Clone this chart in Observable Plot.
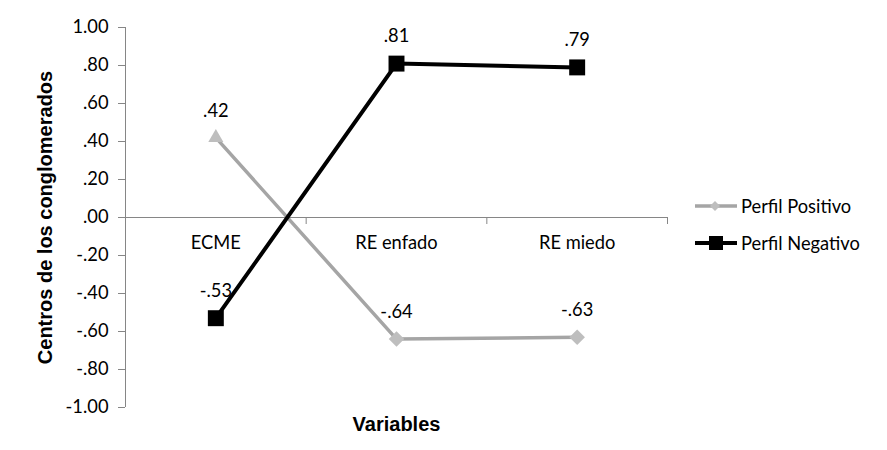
<!DOCTYPE html>
<html>
<head>
<meta charset="utf-8">
<script src="https://cdn.jsdelivr.net/npm/d3@7"></script>
<script src="https://cdn.jsdelivr.net/npm/@observablehq/plot@0.6"></script>
<style>
  body { margin: 0; background: #fff; }
  #wrap { position: relative; width: 887px; height: 450px; }
  #legend { position: absolute; left: 695px; top: 187px; font-family: Lato, sans-serif; font-size: 18.3px; color: #000; }
  .row { display: flex; align-items: center; height: 37px; }
  .row svg { margin-right: 4px; }
</style>
</head>
<body>
<div id="wrap"><div id="legend"></div></div>
<script>
const categories = ["ECME", "RE enfado", "RE miedo"];
const seriesNames = ["Perfil Positivo", "Perfil Negativo"];
const positivo = [0.42, -0.64, -0.63];
const negativo = [-0.53, 0.81, 0.79];
const yTickValues = [1.0, 0.8, 0.6, 0.4, 0.2, 0, -0.2, -0.4, -0.6, -0.8, -1.0];
const yTickLabels = ["1.00", ".80", ".60", ".40", ".20", ".00", "-.20", "-.40", "-.60", "-.80", "-1.00"];

const rowsPos = categories.map((c, i) => ({i, cat: c, v: positivo[i], serie: seriesNames[0]}));
const rowsNeg = categories.map((c, i) => ({i, cat: c, v: negativo[i], serie: seriesNames[1]}));
const boundaries = d3.range(categories.length + 1).map(i => i - 0.5);
const fmt = v => v.toFixed(2).replace(/^(-?)0\./, "$1.");

const grayLine = "#A5A5A5", grayMark = "#BEBEBE", axisCol = "#868686";
const FS = 18.3;

const chart = Plot.plot({
  width: 887, height: 450,
  marginLeft: 125, marginRight: 220, marginTop: 27, marginBottom: 43,
  x: {type: "linear", domain: [-0.5, categories.length - 0.5], axis: null},
  y: {domain: [-1, 1], axis: null},
  style: {fontFamily: "Lato, sans-serif", fontSize: FS + "px", color: "#000", background: "#fff"},
  marks: [
    Plot.ruleX([-0.5], {y1: -1, y2: 1, stroke: axisCol}),
    Plot.axisY(yTickValues, {
      tickSize: 7, tickPadding: 10, stroke: axisCol, fill: "#000", fontSize: FS, label: null,
      tickFormat: d => yTickLabels[yTickValues.indexOf(d)]
    }),
    Plot.ruleY([0], {x1: -0.5, x2: categories.length - 0.5, stroke: axisCol}),
    Plot.ruleX(boundaries, {y1: 0, y2: 0, insetBottom: -7, stroke: axisCol}),
    Plot.text(categories, {x: (d, i) => i, y: 0, dy: 26, text: d => d, fill: "#000", fontSize: FS}),
    Plot.line(rowsPos, {x: "i", y: "v", stroke: grayLine, strokeWidth: 3.5}),
    Plot.dot(rowsPos.filter(d => d.i === 0), {x: "i", y: "v", symbol: "triangle", r: 5.6, fill: grayMark}),
    Plot.dot(rowsPos.filter(d => d.i !== 0), {x: "i", y: "v", symbol: "diamond2", r: 7, fill: grayMark}),
    Plot.line(rowsNeg, {x: "i", y: "v", stroke: "#000", strokeWidth: 4}),
    Plot.dot(rowsNeg, {x: "i", y: "v", symbol: "square", r: 9, fill: "#000"}),
    Plot.text([...rowsPos, ...rowsNeg], {x: "i", y: "v", text: d => fmt(d.v), dy: -27, fill: "#000", fontSize: FS}),
    Plot.text(["Centros de los conglomerados"], {
      frameAnchor: "left", dx: -80, rotate: -90, textAnchor: "middle",
      fontFamily: "Liberation Sans, Arial, sans-serif", fontWeight: "bold", fontSize: 20, fill: "#000"
    }),
    Plot.text(["Variables"], {
      frameAnchor: "bottom", dy: 17, textAnchor: "middle", lineAnchor: "middle",
      fontFamily: "Liberation Sans, Arial, sans-serif", fontWeight: "bold", fontSize: 20, fill: "#000"
    })
  ]
});
const wrap = document.getElementById("wrap");
wrap.insertBefore(chart, wrap.firstChild);

const legend = document.getElementById("legend");
const swatches = [
  `<svg width="42" height="20"><line x1="0" x2="42" y1="10" y2="10" stroke="${grayLine}" stroke-width="3.5"/><polygon points="20,5 25,10 20,15 15,10" fill="${grayMark}"/></svg>`,
  `<svg width="42" height="20"><line x1="0" x2="42" y1="10" y2="10" stroke="#000" stroke-width="4"/><rect x="14" y="3" width="14" height="14" fill="#000"/></svg>`
];
seriesNames.forEach((name, k) => {
  const row = document.createElement("div");
  row.className = "row";
  row.innerHTML = swatches[k] + `<span>${name}</span>`;
  legend.appendChild(row);
});
</script>
</body>
</html>
